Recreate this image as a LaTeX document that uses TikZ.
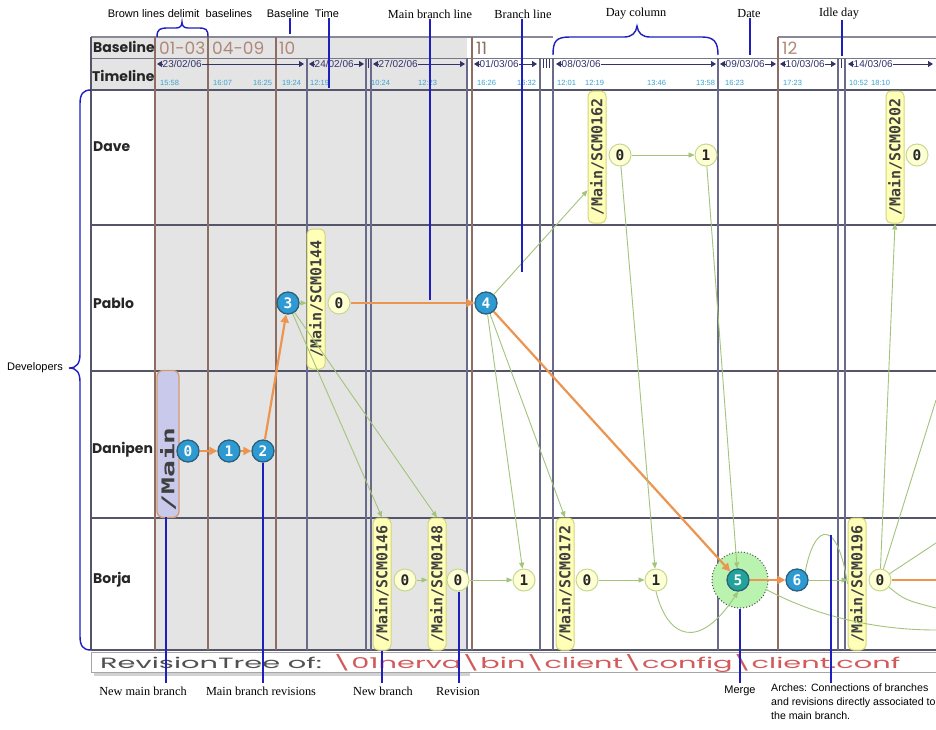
\documentclass[tikz,border=0pt]{standalone}
\usepackage{fontspec}
\usepackage{graphicx}
\usetikzlibrary{arrows.meta,calc}
\setmainfont{Liberation Serif}
\newfontfamily\sansf{Liberation Sans}
\newfontfamily\pop{Poppins}
\newfontfamily\monof{DejaVu Sans Mono}
\definecolor{mainblue}{HTML}{2E9AD2}
\definecolor{mainborder}{HTML}{2B5F7C}
\definecolor{teal5}{HTML}{22A39A}
\definecolor{orangeE}{HTML}{EC9550}
\definecolor{greenE}{HTML}{A3C47A}
\definecolor{tagfill}{HTML}{FFFFB8}
\definecolor{tagdraw}{HTML}{D2D67A}
\definecolor{revfill}{HTML}{FFFFD6}
\definecolor{revdraw}{HTML}{C4D88C}
\definecolor{gridc}{HTML}{55556A}
\definecolor{dayc}{HTML}{6A6A8A}
\definecolor{brownc}{HTML}{8E6E62}
\definecolor{shadec}{HTML}{E4E4E4}
\definecolor{annc}{HTML}{1F1FBF}
\definecolor{basec}{HTML}{B08878}
\definecolor{datec}{HTML}{33336A}
\definecolor{timec}{HTML}{3BA3D3}
\definecolor{pathred}{HTML}{D25A5A}
\definecolor{capgray}{HTML}{505050}
\definecolor{halofill}{HTML}{BAF3B0}
\definecolor{mainlblc}{HTML}{C9C9EC}
\definecolor{mainlbld}{HTML}{D39A6E}
\newcommand\dseg[4]{%
  \coordinate (#1L) at (#2,64);
  \coordinate (#1R) at (#3,64);
  \node[datel, anchor=west] (#1) at ($(#1L)+(5,0)$) {#4};
  \draw[dtip] ($(#1L)+(5,0)$) -- (#1L);
  \draw[dtip] (#1.east) -- (#1R);
}
\begin{document}
\begin{tikzpicture}[x=1pt,y=-1pt,
  mrev/.style={circle, fill=mainblue, draw=mainborder, line width=1.3pt, minimum size=22pt, inner sep=0pt, text=white, font=\monof\bfseries\fontsize{14.5}{14.5}\selectfont},
  brev/.style={circle, fill=revfill, draw=revdraw, line width=1pt, minimum size=22pt, inner sep=0pt, text=black!85, font=\monof\bfseries\fontsize{14.5}{14.5}\selectfont},
  brtag/.style={rotate=90, rounded corners=5pt, fill=tagfill, draw=tagdraw, line width=1pt, minimum width=132pt, minimum height=18pt, inner sep=1pt, text=black!75, font=\monof\bfseries\fontsize{15}{15}\selectfont},
  mainbox/.style={rotate=90, rounded corners=6pt, fill=mainlblc, draw=mainlbld, line width=1.3pt, minimum width=147pt, minimum height=22pt, inner sep=0pt, text width=135pt, align=left, text=black!75, font=\monof\bfseries\fontsize{17.5}{17.5}\selectfont},
  halonode/.style={circle, minimum size=56pt, fill=halofill, draw=black!70, dotted, line width=1pt},
  orE/.style={draw=orangeE, line width=2.2pt, -{Triangle[length=8pt,width=8pt]}},
  orL/.style={draw=orangeE, line width=2.2pt},
  grE/.style={draw=greenE, line width=0.9pt, -{Triangle[length=6pt,width=5pt]}},
  grL/.style={draw=greenE, line width=0.9pt},
  annL/.style={draw=annc, line width=1.4pt},
  datel/.style={font=\sansf\fontsize{10}{10}\selectfont, text=datec, inner sep=0.5pt},
  dtip/.style={datec, line width=0.8pt, -{Triangle[length=5pt,width=6pt]}},
  timel/.style={font=\sansf\fontsize{7.5}{7.5}\selectfont, text=timec, inner sep=0pt, anchor=west},
  basel/.style={font=\pop\fontsize{17}{17}\selectfont, text=basec, inner sep=0pt, anchor=west},
  rowl/.style={font=\pop\bfseries\fontsize{14}{14}\selectfont, text=black!85, inner sep=0pt, anchor=west},
  ann/.style={font=\sansf\fontsize{11}{13}\selectfont, inner sep=0pt},
  annS/.style={font=\fontsize{12.3}{14}\selectfont, inner sep=0pt}
]
\useasboundingbox (0,0) rectangle (936,729);
\fill[white] (0,0) rectangle (936,729);

% shading
\fill[shadec] (91,37) rectangle (467,90);
\fill[shadec] (155,90) rectangle (467,650);

% grid
\draw[gridc!70, line width=1.5pt] (91,37) -- (553,37);
\draw[gridc!70, line width=1.5pt] (778,37) -- (936,37);
\draw[gridc!80, line width=1pt] (91,58) -- (936,58);
\foreach \y in {90,225,371,518,650} \draw[gridc, line width=1.6pt] (91,\y) -- (936,\y);
\draw[gridc, line width=1.6pt] (91,37) -- (91,650);
\foreach \x in {155,208,276,472,778} \draw[brownc, line width=1.3pt] (\x,37) -- (\x,650);
\foreach \x in {307,366,371,467,540,553,718,838,845} \draw[dayc, line width=1.3pt] (\x,58) -- (\x,650);
\foreach \x in {368.5,543.5,546.5,549.5,841.5} \draw[datec, line width=1.2pt] (\x,59) -- (\x,68);

% header labels
\node[rowl] (hBase) at (93,47) {Baseline};
\node[rowl] (hTime) at (92,76) {Timeline};
\node[basel] (bl1) at (159,48) {01-03};
\node[basel] (bl2) at (212,48) {04-09};
\node[basel] (bl3) at (279,48) {10};
\node[basel, text=basec!80!black] (bl4) at (476,48) {11};
\node[basel] (bl5) at (782,48) {12};

% dates
\dseg{dA}{157}{304}{23/02/06}
\dseg{dB}{309}{364}{24/02/06}
\dseg{dC}{373}{465}{27/02/06}
\dseg{dD}{474}{537}{01/03/06}
\dseg{dE}{556}{716}{08/03/06}
\dseg{dF}{720}{776}{09/03/06}
\dseg{dG}{780}{836}{10/03/06}
\dseg{dH}{848}{933}{14/03/06}

% times
\node[timel] (tm1) at (160,83) {15:58};
\node[timel] (tm2) at (213,83) {16:07};
\node[timel] (tm3) at (253,83) {16:25};
\node[timel] (tm4) at (282,83) {19:24};
\node[timel] (tm5) at (310,83) {12:19};
\node[timel] (tm6) at (371,83) {10:24};
\node[timel] (tm7) at (418,83) {12:23};
\node[timel] (tm8) at (477,83) {16:26};
\node[timel] (tm9) at (517,83) {16:32};
\node[timel] (tm10) at (557,83) {12:01};
\node[timel] (tm11) at (585,83) {12:19};
\node[timel] (tm12) at (647,83) {13:46};
\node[timel] (tm13) at (696,83) {13:58};
\node[timel] (tm14) at (725,83) {16:23};
\node[timel] (tm15) at (783,83) {17:23};
\node[timel] (tm16) at (849,83) {10:52};
\node[timel] (tm17) at (871,83) {18:10};

% developers
\node[rowl] (rDave) at (93,147) {Dave};
\node[rowl] (rPablo) at (93,303) {Pablo};
\node[rowl] (rDanipen) at (92,450) {Danipen};
\node[rowl] (rBorja) at (93,580) {Borja};

% nodes
\node[mainbox] (mainB) at (168,444) {\noindent\scalebox{1.6}[1]{/Main}};
\node[mrev] (m0) at (188,451) {0};
\node[mrev] (m1) at (229,451) {1};
\node[mrev] (m2) at (263,451) {2};
\node[mrev] (m3) at (288,303) {3};
\node[mrev] (m4) at (486,303) {4};
\node[halonode] (halo) at (740,580) {};
\node[mrev, fill=teal5] (m5) at (738,580) {5};
\node[mrev] (m6) at (797,580) {6};
\node[brtag, minimum width=140pt] (t144) at (316,299) {/Main/SCM0144};
\node[brtag] (t162) at (597,157) {/Main/SCM0162};
\node[brtag] (t202) at (895,157) {/Main/SCM0202};
\node[brtag] (t146) at (382,584) {/Main/SCM0146};
\node[brtag] (t148) at (437,584) {/Main/SCM0148};
\node[brtag] (t172) at (565,584) {/Main/SCM0172};
\node[brtag] (t196) at (857,584) {/Main/SCM0196};
\node[brev] (p0) at (339,303) {0};
\node[brev] (d0) at (620,155) {0};
\node[brev] (d1) at (706,155) {1};
\node[brev] (dd0) at (917,155) {0};
\node[brev] (b0) at (405,580) {0};
\node[brev] (b1) at (458,580) {0};
\node[brev] (b2) at (524,580) {1};
\node[brev] (b3) at (587,580) {0};
\node[brev] (b4) at (656,580) {1};
\node[brev] (b5) at (880,580) {0};

% free ends at the right edge
\coordinate (rOr) at (936,580);
\coordinate (rA) at (936,630);
\coordinate (rB) at (936,400);
\coordinate (rC) at (936,543);
\coordinate (rD) at (936,608);

% main branch (orange)
\draw[orE] (m0) -- (m1);
\draw[orE] (m1) -- (m2);
\draw[orE] (m2) -- (m3);
\draw[orE] (p0) -- (m4);
\draw[orE] (m4) -- (m5);
\draw[orE] (m5) -- (m6);
\draw[orL] (b5) -- (rOr);

% branches (green)
\draw[grE] (m3) -- (m3 -| t144.north);
\draw[grE] (m3) -- (t146.east);
\draw[grE] (m3) -- (t148.east);
\draw[grE] (b0) -- (b0 -| t148.north);
\draw[grE] (b1) -- (b2);
\draw[grE] (m4) -- ($(t162.north)!0.5!(t162.north west)$);
\draw[grE] (m4) -- (b2);
\draw[grE] (m4) -- (t172.east);
\draw[grE] (d0) -- (d1);
\draw[grE] (d0) -- (b4);
\draw[grE] (d1) -- (m5);
\draw[grE] (b3) -- (b4);
\draw[grE] (m6) -- (m6 -| t196.north);
\draw[grE] (b5) -- (t202.west);
\draw[grE] (b4.south) .. controls (668,640) and (700,650) .. (m5.south);
\draw[grL] (m6.north east) .. controls (815,520) and (838,520) .. (t196.north);
\draw[grL] (halo.-20) .. controls (820,618) and (880,630) .. (rA);
\draw[grL] (b5) -- (rB);
\draw[grL] (b5) -- (rC);
\draw[grL] (b5) .. controls (905,600) .. (rD);

% caption bar
\fill[gray!35] (94,672) rectangle (470,676);
\draw[gray!70, fill=white, line width=0.8pt] (91,652) rectangle (936,672);
\node[anchor=base west, inner sep=0pt] (cap) at (100,668) {\resizebox{800pt}{14pt}{\pop{\color{capgray}RevisionTree of: }{\color{pathred}\textbackslash 01nerva\textbackslash bin\textbackslash client\textbackslash config\textbackslash client.conf}}};

% annotations top
\node[ann] (aBrown) at (180,14) {Brown lines delimit\ \ baselines};
\node[ann] (aBase) at (288,14) {Baseline};
\node[ann] (aTime) at (327,14) {Time};
\node[annS] (aMain) at (430,14) {Main branch line};
\node[annS] (aBranch) at (523,14) {Branch line};
\node[annS] (aDay) at (636,14) {Day column};
\node[annS] (aDate) at (749,14) {Date};
\node[annS] (aIdle) at (839,14) {Idle day};
\coordinate (baseE) at (290,34);
\coordinate (timeE) at (329,88);
\coordinate (mainE) at (430,300);
\coordinate (branchE) at (522,272);
\coordinate (dateE) at (750,55);
\coordinate (idleE) at (842,56);
\draw[annL] (aBase.south -| baseE) -- (baseE);
\draw[annL] (aTime.south -| timeE) -- (timeE);
\draw[annL] (aMain.south -| mainE) -- (mainE);
\draw[annL] (aBranch.south -| branchE) -- (branchE);
\draw[annL] (aDate.south -| dateE) -- (dateE);
\draw[annL] (aIdle.south -| idleE) -- (idleE);
% braces
\draw[annL] (157,37) .. controls (157,29) and (160,28) .. (168,28) -- (176,28) .. controls (180,28) and (182,26) .. (182,22) .. controls (182,26) and (184,28) .. (188,28) -- (198,28) .. controls (206,28) and (208,29) .. (208,37);
\draw[annL] (553,55) .. controls (553,41) and (556,37) .. (570,37) -- (624,37) .. controls (632,37) and (636,33) .. (637,26) .. controls (638,33) and (642,37) .. (650,37) -- (702,37) .. controls (714,37) and (718,42) .. (718,55);
\node[ann] (aDev) at (35,368) {Developers};
\draw[annL] (91,90) .. controls (83,90) and (80,94) .. (80,104) -- (80,354) .. controls (80,363) and (77,368) .. (69,368) .. controls (77,368) and (80,373) .. (80,382) -- (80,636) .. controls (80,646) and (83,650) .. (91,650);

% annotations bottom
\node[annS] (aNewMain) at (143,691) {New main branch};
\node[annS] (aMBR) at (261,691) {Main branch revisions};
\node[annS] (aNewBr) at (383,691) {New branch};
\node[annS] (aRev) at (458,691) {Revision};
\node[ann] (aMerge) at (740,691) {Merge};
\node[ann, font=\sansf\fontsize{10.6}{14}\selectfont, align=left, anchor=north west] (aArch) at (771,684) {Arches: Connections of branches\\and revisions directly associated to\\the main branch.};
\coordinate (nmT) at (166,517);
\coordinate (nmE) at (166,683);
\coordinate (mbrE) at (263,683);
\coordinate (nbE) at (383,683);
\coordinate (revE) at (459,683);
\coordinate (mergeE) at (740,683);
\coordinate (archT) at (831,535);
\coordinate (archE) at (831,683);
\draw[annL] (nmT) -- (nmE);
\draw[annL] (m2.south) -- (m2.south |- mbrE);
\draw[annL] (t146.west) -- (t146.west |- nbE);
\draw[annL] (b1.south -| revE) -- (revE);
\draw[annL] (halo.south) -- (halo.south |- mergeE);
\draw[annL] (archT) -- (archE);
\end{tikzpicture}
\end{document}
